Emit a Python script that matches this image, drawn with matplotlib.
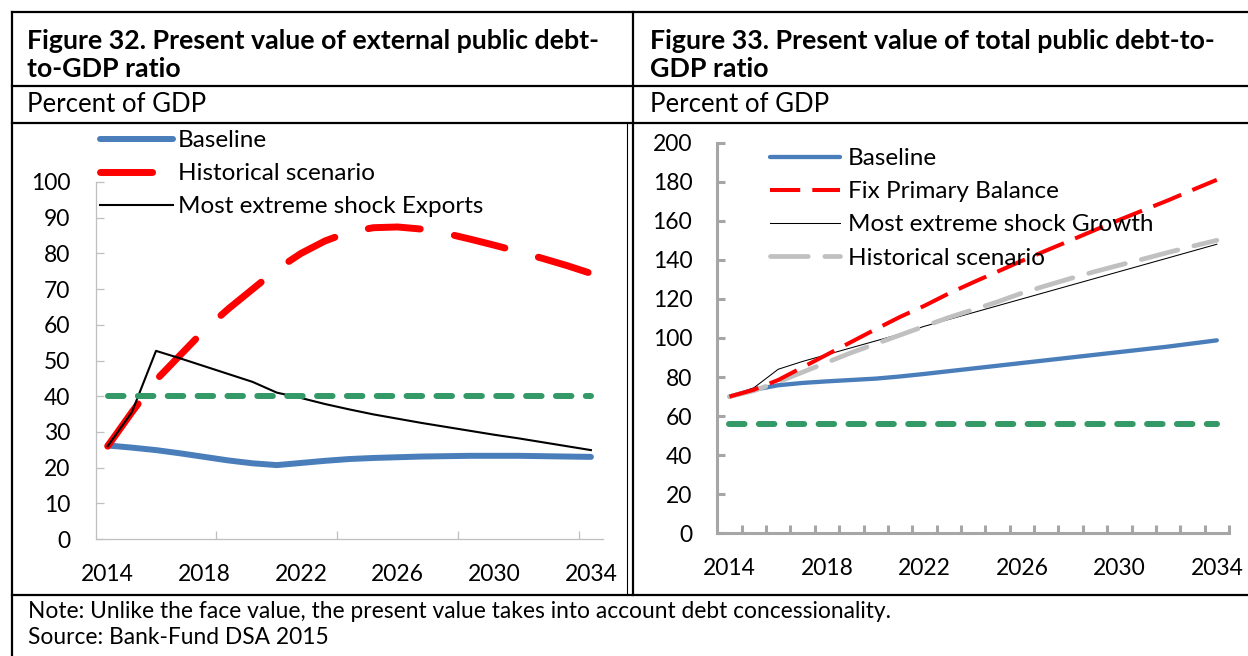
import matplotlib.pyplot as plt
from matplotlib.lines import Line2D

W, H = 1248, 656

years = list(range(2014, 2035))
label_years = years[::4]

# Figure 32 - PV of external public debt (percent of GDP)
ext_baseline = [26.2, 25.6, 24.9, 24.0, 23.0, 22.0, 21.2, 20.7, 21.3, 21.9, 22.4,
                22.7, 22.9, 23.1, 23.2, 23.3, 23.3, 23.3, 23.2, 23.1, 23.0]
ext_historical = [26.0, 35.5, 44.5, 51.5, 58.5, 64.5, 70.0, 75.5, 80.0, 83.5, 86.0,
                  87.2, 87.4, 86.8, 85.6, 84.0, 82.3, 80.5, 78.6, 76.6, 74.4]
ext_shock_exports = [26.0, 35.5, 52.7, 50.6, 48.4, 46.2, 44.0, 41.0, 39.5, 37.8, 36.3,
                     34.9, 33.7, 32.5, 31.4, 30.3, 29.2, 28.2, 27.1, 26.0, 24.9]
ext_threshold = [40] * len(years)

# Figure 33 - PV of total public debt (percent of GDP)
tot_baseline = [70.0, 73.5, 75.8, 77.0, 77.8, 78.5, 79.2, 80.3, 81.6, 83.0, 84.4,
                85.8, 87.2, 88.6, 90.0, 91.4, 92.8, 94.2, 95.6, 97.2, 98.8]
tot_fix_pb = [70.0, 73.5, 78.5, 85.0, 91.5, 98.0, 104.5, 110.8, 116.5, 122.8, 128.5,
              134.0, 139.5, 144.8, 150.0, 155.3, 160.5, 165.5, 170.5, 175.8, 181.0]
tot_shock_growth = [70.0, 74.5, 84.0, 88.0, 91.5, 95.0, 98.5, 102.0, 106.0, 109.5, 113.0,
                    116.5, 120.0, 123.5, 127.0, 130.5, 134.0, 137.5, 141.0, 144.5, 148.0]
tot_historical = [70.0, 73.0, 77.5, 82.5, 87.5, 92.5, 97.0, 101.5, 106.0, 110.5, 114.5,
                  118.5, 123.0, 126.8, 130.5, 134.0, 137.3, 140.5, 143.8, 147.0, 150.0]
tot_benchmark = [56] * len(years)

titles = [["Figure 32. Present value of external public debt-", "to-GDP ratio"],
          ["Figure 33. Present value of total public debt-to-", "GDP ratio"]]
units = "Percent of GDP"
note = "Note: Unlike the face value, the present value takes into account debt concessionality."
source = "Source: Bank-Fund DSA 2015"

BLUE = "#4A7EBB"
RED = "#FF0000"
GREEN = "#339966"
GREY = "#C0C0C0"

plt.rcParams["font.family"] = ["Lato", "DejaVu Sans"]
FS_TITLE = 19.3
FS_UNIT = 18.5
FS_NOTE = 16.4
FS_TICK = 16.5
FS_LEG = 17.5

fig = plt.figure(figsize=(W / 100, H / 100), dpi=100)


def fx(px):
    return px / W


def fy(py):
    return 1 - py / H


def axes_at(x0, y0, x1, y1):
    return fig.add_axes([fx(x0), fy(y1), fx(x1) - fx(x0), fy(y0) - fy(y1)])


# table grid
def hline(y, x0=12, x1=W, lw=1.6, c="black"):
    fig.add_artist(Line2D([fx(x0), fx(x1)], [fy(y), fy(y)], lw=lw, color=c))


def vline(x, y0, y1, lw=1.6, c="black"):
    fig.add_artist(Line2D([fx(x), fx(x)], [fy(y0), fy(y1)], lw=lw, color=c))


for yy in [12, 85.5, 123, 595]:
    hline(yy)
vline(12, 12, H)
vline(632.5, 12, 595)
vline(627, 123, 595, lw=0.8)

# texts in table
for x0, t in zip([27, 650], titles):
    fig.text(fx(x0), fy(41), t[0], fontsize=FS_TITLE, fontweight="bold", va="center")
    fig.text(fx(x0), fy(69), t[1], fontsize=FS_TITLE, fontweight="bold", va="center")
    fig.text(fx(x0), fy(104), units, fontsize=FS_UNIT, va="center")
fig.text(fx(28), fy(612), note, fontsize=FS_NOTE, va="center")
fig.text(fx(28), fy(637), source, fontsize=FS_NOTE, va="center")


def style_axis(ax, ymax, ystep, minor_pos, spine_c, spine_w):
    ax.set_xlim(2013.5, 2034.5)
    ax.set_ylim(0, ymax)
    ax.set_yticks(range(0, ymax + 1, ystep))
    ax.set_xticks(label_years)
    ax.set_xticks(minor_pos, minor=True)
    for s in ["top", "right"]:
        ax.spines[s].set_visible(False)
    for s in ["left", "bottom"]:
        ax.spines[s].set_color(spine_c)
        ax.spines[s].set_linewidth(spine_w)
    ax.tick_params(axis="y", direction="in", length=6, width=spine_w, color=spine_c,
                   pad=18, labelsize=FS_TICK)
    ax.tick_params(axis="x", which="major", length=0, pad=18, labelsize=FS_TICK)
    ax.tick_params(axis="x", which="minor", direction="in", length=6, width=spine_w,
                   color=spine_c)
    ax.patch.set_alpha(0)


# ---- Figure 32
ax1 = axes_at(95.6, 182, 603, 539)
style_axis(ax1, 100, 10, [y + 0.5 for y in years[4::5]], "#BFBFBF", 0.9)
l1, = ax1.plot(years, ext_baseline, color=BLUE, lw=4.3, solid_capstyle="round",
               label="Baseline")
l2, = ax1.plot(years, ext_historical, color=RED, lw=5, dashes=(7.5, 5),
               dash_capstyle="round", label="Historical scenario")
l3, = ax1.plot(years, ext_shock_exports, color="black", lw=1.5,
               label="Most extreme shock Exports")
ax1.plot(years, ext_threshold, color=GREEN, lw=4.3, dashes=(2.6, 2.4),
         dash_capstyle="round")
ax1.legend(handles=[l1, l2, l3], loc="upper left", bbox_to_anchor=(fx(100), fy(130)),
           bbox_transform=fig.transFigure, frameon=False, fontsize=FS_LEG,
           handlelength=3.0, handletextpad=0.2, labelspacing=0.5,
           borderpad=0, borderaxespad=0)

# ---- Figure 33
ax2 = axes_at(717.3, 142.7, 1229, 533.3)
style_axis(ax2, 200, 20, [y + 0.5 for y in years], "#A6A6A6", 2.2)
r1, = ax2.plot(years, tot_baseline, color=BLUE, lw=3.1, solid_capstyle="round",
               label="Baseline")
r3, = ax2.plot(years, tot_shock_growth, color="black", lw=0.75,
               label="Most extreme shock Growth")
r4, = ax2.plot(years, tot_historical, color=GREY, lw=3.4, dashes=(8, 3.5),
               dash_capstyle="round", label="Historical scenario")
r2, = ax2.plot(years, tot_fix_pb, color=RED, lw=2.9, dashes=(7.5, 3),
               label="Fix Primary Balance")
ax2.plot(years, tot_benchmark, color=GREEN, lw=4.3, dashes=(2.6, 2.4),
         dash_capstyle="round")
ax2.legend(handles=[r1, r2, r3, r4], loc="upper left", bbox_to_anchor=(fx(770), fy(148)),
           bbox_transform=fig.transFigure, frameon=False, fontsize=FS_LEG,
           handlelength=2.9, handletextpad=0.29, labelspacing=0.5,
           borderpad=0, borderaxespad=0)

fig.savefig("out.png", dpi=100)
